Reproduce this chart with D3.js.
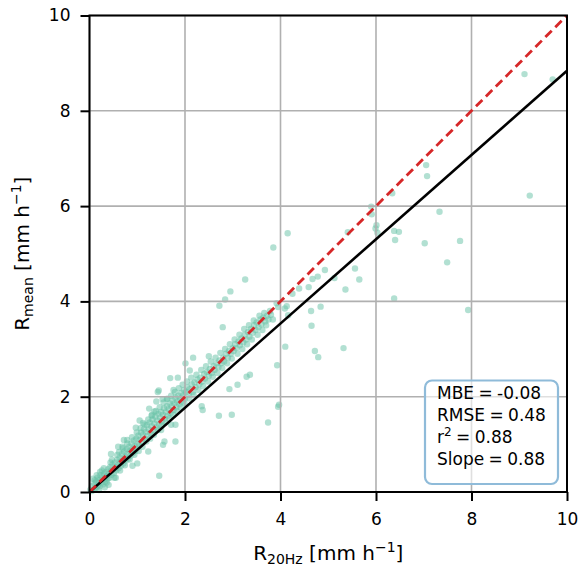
<!DOCTYPE html>
<html>
<head>
<meta charset="utf-8">
<script src="https://cdn.jsdelivr.net/npm/d3@7"></script>
<style>
  body { margin: 0; background: #fff; }
  svg text { font-family: 'DejaVu Sans', sans-serif; fill: #000; }
  .grid line { stroke: #b0b0b0; stroke-width: 1.6; }
  .tick line { stroke: #000; stroke-width: 2; }
</style>
</head>
<body>
<svg id="svg" width="579" height="566"></svg>
<script>
const xTicks = [0, 2, 4, 6, 8, 10]
const yTicks = [0, 2, 4, 6, 8, 10]
const fitSlope = 0.884
const fitIntercept = 0.0
const statLines = ['MBE = -0.08', 'RMSE = 0.48', 'r2 = 0.88', 'Slope = 0.88']

// scatter (x = R20Hz, y = Rmean)
const denseLow = [
  [0.02, 0.05], [0.05, 0.02], [0.05, 0.12], [0.08, 0.05], [0.1, 0.18], [0.12, 0.08], [0.14, 0.22], [0.15, 0.1],
  [0.17, 0.3], [0.18, 0.14], [0.2, 0.25], [0.21, 0.12], [0.23, 0.35], [0.25, 0.2], [0.26, 0.3], [0.28, 0.16],
  [0.3, 0.38], [0.31, 0.27], [0.33, 0.22], [0.34, 0.42], [0.36, 0.33], [0.38, 0.28], [0.39, 0.48], [0.4, 0.38],
  [0.42, 0.3], [0.43, 0.52], [0.45, 0.44], [0.46, 0.36], [0.48, 0.58], [0.5, 0.47], [0.51, 0.4], [0.53, 0.62],
  [0.55, 0.52], [0.56, 0.45], [0.58, 0.68], [0.6, 0.57], [0.61, 0.5], [0.63, 0.72], [0.65, 0.63], [0.66, 0.55],
  [0.68, 0.8], [0.7, 0.68], [0.71, 0.6], [0.73, 0.85], [0.75, 0.74], [0.76, 0.66], [0.78, 0.9], [0.8, 0.8],
  [0.81, 0.7], [0.83, 0.95], [0.85, 0.86], [0.86, 0.76], [0.88, 1.02], [0.9, 0.9], [0.91, 0.82], [0.93, 1.08],
  [0.95, 0.96], [0.96, 0.86], [0.98, 1.12], [1.0, 1.0], [0.32, 0.1], [0.4, 0.15], [0.2, 0.04], [0.55, 0.3],
  [0.11, 0.25], [0.07, 0.28], [0.26, 0.45], [0.44, 0.62], [0.62, 0.84], [0.7, 0.92]
]
const denseMid = [
  [1.02, 1.18], [1.04, 0.98], [1.06, 1.1], [1.08, 1.25], [1.1, 1.05], [1.12, 1.2], [1.14, 1.32], [1.16, 1.12],
  [1.18, 1.26], [1.2, 1.4], [1.22, 1.18], [1.24, 1.32], [1.26, 1.46], [1.28, 1.24], [1.3, 1.38], [1.32, 1.52],
  [1.34, 1.3], [1.36, 1.44], [1.38, 1.58], [1.4, 1.36], [1.42, 1.5], [1.44, 1.64], [1.46, 1.42], [1.48, 1.56],
  [1.5, 1.68], [1.52, 1.48], [1.54, 1.62], [1.56, 1.76], [1.58, 1.54], [1.6, 1.68], [1.62, 1.8], [1.64, 1.6],
  [1.66, 1.74], [1.68, 1.86], [1.7, 1.66], [1.72, 1.8], [1.74, 1.92], [1.76, 1.72], [1.78, 1.86], [1.8, 1.98],
  [1.82, 1.78], [1.84, 1.9], [1.86, 2.02], [1.88, 1.84], [1.9, 1.96], [1.92, 2.08], [1.94, 1.9], [1.96, 2.02],
  [1.98, 2.14], [2.0, 1.96], [1.12, 1.45], [1.3, 1.6], [1.5, 1.3], [1.62, 1.95]
]
const denseHigh = [
  [2.02, 2.1], [2.05, 2.2], [2.08, 2.04], [2.1, 2.16], [2.14, 2.26], [2.16, 2.1], [2.2, 2.3], [2.22, 2.2],
  [2.26, 2.36], [2.3, 2.26], [2.32, 2.4], [2.36, 2.32], [2.4, 2.48], [2.42, 2.38], [2.46, 2.52], [2.5, 2.44],
  [2.52, 2.58], [2.56, 2.5], [2.6, 2.64], [2.62, 2.56], [2.66, 2.7], [2.7, 2.62], [2.72, 2.76], [2.76, 2.7],
  [2.8, 2.82], [2.82, 2.74], [2.86, 2.9], [2.9, 2.82], [2.92, 2.96], [2.96, 2.9], [3.0, 3.02],
  [3.02, 2.96], [3.05, 3.1], [3.08, 3.02], [3.12, 3.16], [3.15, 3.08], [3.18, 3.22], [3.22, 3.14], [3.25, 3.3],
  [3.28, 3.2], [3.32, 3.36], [3.35, 3.26], [3.38, 3.42], [3.42, 3.34], [3.45, 3.5], [3.48, 3.4], [3.5, 3.56],
  [3.54, 3.46], [3.58, 3.62], [3.6, 3.52], [3.64, 3.66], [3.68, 3.58], [3.72, 3.7], [3.75, 3.62], [3.8, 3.72],
  [3.92, 3.96], [3.95, 3.88], [4.13, 3.9], [4.16, 3.71], [4.09, 3.85], [4.25, 4.16], [4.39, 4.27], [4.59, 4.3]
]
const denseExtra = [
  [0.15, 0.35], [0.22, 0.42], [0.3, 0.5], [0.36, 0.2], [0.47, 0.68], [0.52, 0.3], [0.58, 0.78], [0.64, 0.45],
  [0.69, 0.95], [0.74, 0.56], [0.79, 1.02], [0.84, 0.68], [0.89, 1.15], [0.94, 0.78], [0.99, 1.25], [1.03, 0.86],
  [1.07, 1.34], [1.11, 0.95], [1.15, 1.42], [1.19, 1.06], [1.23, 1.52], [1.27, 1.12], [1.31, 1.62], [1.35, 1.2],
  [1.39, 1.7], [1.43, 1.3], [1.47, 1.78], [1.51, 1.4], [1.55, 1.88], [1.59, 1.46], [1.63, 1.96], [1.67, 1.55],
  [1.71, 2.02], [1.75, 1.62], [1.79, 2.1], [1.83, 1.7], [1.87, 2.18], [1.91, 1.78], [1.95, 2.25], [1.99, 1.86],
  [2.04, 2.32], [2.09, 1.96], [2.13, 2.4], [2.18, 2.04], [2.24, 2.46], [2.28, 2.14], [2.34, 2.56], [2.38, 2.22],
  [2.44, 2.64], [2.48, 2.32], [2.54, 2.74], [2.58, 2.42], [2.64, 2.82], [2.68, 2.5], [2.74, 2.92], [2.78, 2.6],
  [2.84, 3.0], [2.88, 2.7], [2.94, 3.1], [2.98, 2.8], [3.04, 3.2], [3.1, 2.9], [3.14, 3.3], [3.2, 3.0],
  [3.24, 3.42], [3.3, 3.1], [3.34, 3.5], [3.4, 3.2], [3.44, 3.6], [3.52, 3.3], [3.56, 3.7], [3.62, 3.4],
  [3.66, 3.76], [3.7, 3.5], [3.78, 3.8], [3.84, 3.62], [0.45, 0.8], [0.6, 0.95], [0.9, 0.55], [1.25, 1.75],
  [1.05, 1.5], [1.4, 1.9], [1.85, 2.4], [2.1, 2.55], [2.5, 2.85]
]
const scattered = [
  [2.17, 2.82], [2.01, 2.7], [1.69, 2.39], [1.76, 2.14], [1.45, 2.13], [1.53, 1.95], [1.36, 1.69], [1.43, 2.1],
  [2.35, 1.8], [2.37, 1.72], [2.71, 1.6], [2.98, 1.62], [3.74, 1.46], [3.97, 1.83], [3.93, 2.66], [3.95, 1.79],
  [2.93, 2.16], [3.1, 2.25], [3.29, 2.42], [3.36, 2.46], [1.46, 0.34], [1.8, 1.06], [1.57, 1.06], [1.54, 0.99],
  [1.23, 0.85], [1.0, 0.6], [1.8, 1.41], [1.71, 1.41], [0.97, 1.35], [0.72, 1.09], [0.79, 1.09], [2.72, 3.91],
  [2.79, 3.46], [3.26, 4.46], [2.95, 4.21], [2.84, 4.04], [3.85, 5.13], [4.15, 5.43], [4.1, 3.05], [4.72, 2.96],
  [4.79, 2.83], [5.32, 3.02], [4.65, 3.49], [4.64, 3.8], [4.84, 3.89], [4.93, 4.66], [5.56, 4.69], [5.65, 4.46],
  [5.13, 4.49], [4.78, 4.52], [4.67, 4.47], [5.36, 4.25], [5.41, 5.45], [5.9, 5.99], [5.91, 5.83], [6.01, 5.6],
  [5.99, 5.53], [6.03, 5.44], [6.38, 5.48], [6.48, 5.46], [6.4, 5.29], [7.33, 5.88], [7.02, 5.22], [7.76, 5.27],
  [7.49, 4.82], [6.38, 4.06], [7.93, 3.82], [6.34, 6.27], [7.05, 6.86], [7.07, 6.63], [9.22, 6.22], [9.11, 8.77],
  [9.7, 8.66]
]
const points = denseLow.concat(denseMid, denseHigh, denseExtra, scattered)

const M = { left: 89.5, right: 567, top: 15.5, bottom: 492 }
const svg = d3.select('svg')
const x = d3.scaleLinear().domain([0, 10]).range([M.left, M.right])
const y = d3.scaleLinear().domain([0, 10]).range([M.bottom, M.top])

// points
svg.append('g')
  .selectAll('circle')
  .data(points)
  .enter()
  .append('circle')
  .attr('cx', d => x(d[0]))
  .attr('cy', d => y(d[1]))
  .attr('r', 3.2)
  .attr('fill', '#66c2a5')
  .attr('fill-opacity', 0.5)

// grid
const grid = svg.append('g').attr('class', 'grid')
grid.selectAll('.gx').data(xTicks).enter().append('line')
  .attr('x1', d => x(d)).attr('x2', d => x(d))
  .attr('y1', M.top).attr('y2', M.bottom)
grid.selectAll('.gy').data(yTicks).enter().append('line')
  .attr('y1', d => y(d)).attr('y2', d => y(d))
  .attr('x1', M.left).attr('x2', M.right)

// 1:1 line and fit
const clip = svg.append('clipPath').attr('id', 'clip')
clip.append('rect').attr('x', M.left).attr('y', M.top)
  .attr('width', M.right - M.left).attr('height', M.bottom - M.top)

svg.append('line')
  .attr('clip-path', 'url(#clip)')
  .attr('x1', x(0)).attr('y1', y(fitIntercept))
  .attr('x2', x(10)).attr('y2', y(fitIntercept + fitSlope * 10))
  .attr('stroke', '#000').attr('stroke-width', 2.6)

svg.append('line')
  .attr('clip-path', 'url(#clip)')
  .attr('x1', x(0)).attr('y1', y(0))
  .attr('x2', x(10)).attr('y2', y(10))
  .attr('stroke', '#d62728').attr('stroke-width', 2.8)
  .attr('stroke-dasharray', '9,5')

// axes
const xAxis = svg.append('g')
  .attr('transform', 'translate(0,' + M.bottom + ')')
  .call(d3.axisBottom(x).tickValues(xTicks).tickSize(9).tickPadding(12).tickFormat(d3.format('d')))
const yAxis = svg.append('g')
  .attr('transform', 'translate(' + M.left + ',0)')
  .call(d3.axisLeft(y).tickValues(yTicks).tickSize(9).tickPadding(10).tickFormat(d3.format('d')))
;[xAxis, yAxis].forEach(a => {
  a.select('.domain').remove()
  a.selectAll('text').style('font-size', '17px').style('font-family', "'DejaVu Sans', sans-serif")
})

svg.append('rect')
  .attr('x', M.left).attr('y', M.top)
  .attr('width', M.right - M.left).attr('height', M.bottom - M.top)
  .attr('fill', 'none').attr('stroke', '#000').attr('stroke-width', 2)

// axis labels
function unitLabel (sel, sub) {
  sel.append('tspan').text('R')
  sel.append('tspan').text(sub).attr('font-size', '14px').attr('dy', 4)
  sel.append('tspan').text(' [mm h').attr('dy', -4)
  sel.append('tspan').text('\u22121').attr('font-size', '14px').attr('dy', -8)
  sel.append('tspan').text(']').attr('dy', 8)
}
const xl = svg.append('text')
  .attr('x', (M.left + M.right) / 2).attr('y', 560)
  .attr('text-anchor', 'middle').style('font-size', '20px')
unitLabel(xl, '20Hz')
const yl = svg.append('text')
  .attr('transform', 'translate(29,' + (M.top + M.bottom) / 2 + ') rotate(-90)')
  .attr('text-anchor', 'middle').style('font-size', '20px')
unitLabel(yl, 'mean')

// stats box
svg.append('rect')
  .attr('x', 425).attr('y', 380.5).attr('width', 133).attr('height', 103.5)
  .attr('rx', 7)
  .attr('fill', '#fff').attr('fill-opacity', 0.6)
  .attr('stroke', '#8fbbd9').attr('stroke-width', 2.2)
const box = svg.append('g').attr('transform', 'translate(437,0)')
statLines.forEach((s, i) => {
  const t = box.append('text').attr('y', 399 + i * 22).style('font-size', '17px').style('word-spacing', '-1px')
  if (s.startsWith('r2')) {
    t.append('tspan').text('r')
    t.append('tspan').text('2').attr('font-size', '12px').attr('dy', -7)
    t.append('tspan').text(s.slice(2)).attr('dy', 7)
  } else {
    t.text(s)
  }
})
</script>
</body>
</html>
